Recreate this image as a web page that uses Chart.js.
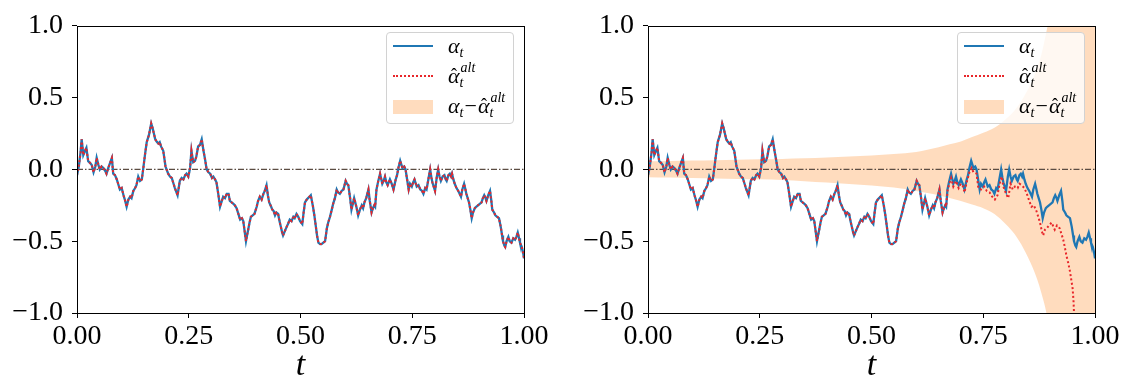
<!DOCTYPE html>
<html><head><meta charset="utf-8">
<script src="https://cdn.jsdelivr.net/npm/chart.js"></script>
<style>
html,body{margin:0;padding:0;background:#fff;}
body{width:1125px;height:381px;position:relative;overflow:hidden;}
.panel{position:absolute;top:0;width:554px;height:381px;}
.legend{position:absolute;top:32px;width:128px;height:92px;box-sizing:border-box;border:1px solid #d2d2d2;border-radius:4px;background:rgba(255,255,255,0.8);font-family:'Liberation Serif','DejaVu Serif',serif;color:#000;z-index:5;}
.row{position:absolute;left:0;width:100%;height:30px;}
.sample{position:absolute;left:6px;width:40px;}
.lab{position:absolute;left:61px;top:0;height:30px;line-height:30px;white-space:nowrap;font-size:22px;}
.lab i{font-style:italic;}
.sb{font-size:14px;font-style:italic;position:relative;top:4px;}
.hat{position:relative;display:inline-block;font-style:italic;line-height:22px;}
.hat .hc{position:absolute;left:3px;top:1px;font-style:normal;font-size:18px;line-height:18px;}
.ss{display:inline-block;position:relative;width:19px;height:1px;font-size:14px;font-style:italic;}
.ss .up{position:absolute;left:1px;top:-21px;line-height:14px;}
.ss .dn{position:absolute;left:0;top:-6px;line-height:14px;}
.op{padding:0 1px;}
</style>
</head><body>
<div class="panel" style="left:0"><canvas id="c1" width="554" height="381"></canvas></div>
<div class="panel" style="left:571px"><canvas id="c2" width="554" height="381"></canvas></div>

<div class="legend" style="left:386px">
  <div class="row" style="top:-2px"><div class="sample" style="top:14px;height:2px;background:#1f77b4"></div><div class="lab"><i>α</i><span class="sb">t</span></div></div>
  <div class="row" style="top:28px"><div class="sample" style="top:14px;height:0;border-top:2px dotted #e8262a"></div><div class="lab"><span class="hat">α<span class="hc">ˆ</span></span><span class="ss"><span class="up">alt</span><span class="dn">t</span></span></div></div>
  <div class="row" style="top:58px"><div class="sample" style="top:9px;height:14px;background:rgba(255,127,14,0.27)"></div><div class="lab"><i>α</i><span class="sb">t</span><span class="op">−</span><span class="hat">α<span class="hc">ˆ</span></span><span class="ss"><span class="up">alt</span><span class="dn">t</span></span></div></div>
</div>
<div class="legend" style="left:957px">
  <div class="row" style="top:-2px"><div class="sample" style="top:14px;height:2px;background:#1f77b4"></div><div class="lab"><i>α</i><span class="sb">t</span></div></div>
  <div class="row" style="top:28px"><div class="sample" style="top:14px;height:0;border-top:2px dotted #e8262a"></div><div class="lab"><span class="hat">α<span class="hc">ˆ</span></span><span class="ss"><span class="up">alt</span><span class="dn">t</span></span></div></div>
  <div class="row" style="top:58px"><div class="sample" style="top:9px;height:14px;background:rgba(255,127,14,0.27)"></div><div class="lab"><i>α</i><span class="sb">t</span><span class="op">−</span><span class="hat">α<span class="hc">ˆ</span></span><span class="ss"><span class="up">alt</span><span class="dn">t</span></span></div></div>
</div>

<script>
// ---- data ----
const tAlpha = [0.000,0.004,0.008,0.0104,0.0141,0.018,0.021,0.025,0.029,0.033,0.037,0.041,0.044,0.048,0.051,0.055,0.059,0.063,0.066,0.070,0.074,0.078,0.081,0.085,0.089,0.092,0.096,0.100,0.104,0.107,0.111,0.115,0.119,0.122,0.126,0.130,0.133,0.137,0.141,0.145,0.148,0.152,0.156,0.161,0.166,0.169,0.172,0.175,0.179,0.182,0.185,0.188,0.193,0.198,0.204,0.208,0.212,0.216,0.219,0.225,0.230,0.234,0.238,0.242,0.245,0.249,0.253,0.256,0.260,0.264,0.267,0.271,0.275,0.279,0.283,0.287,0.290,0.294,0.298,0.302,0.305,0.309,0.312,0.316,0.320,0.324,0.327,0.331,0.335,0.339,0.342,0.346,0.350,0.353,0.357,0.361,0.365,0.369,0.372,0.375,0.378,0.381,0.383,0.386,0.389,0.393,0.397,0.400,0.402,0.405,0.409,0.413,0.417,0.420,0.424,0.427,0.430,0.433,0.437,0.440,0.443,0.446,0.450,0.453,0.456,0.459,0.461,0.465,0.469,0.472,0.476,0.480,0.484,0.487,0.491,0.495,0.499,0.504,0.507,0.510,0.514,0.517,0.520,0.523,0.528,0.531,0.534,0.537,0.540,0.544,0.547,0.551,0.555,0.559,0.562,0.566,0.570,0.573,0.577,0.581,0.584,0.588,0.592,0.596,0.601,0.604,0.607,0.611,0.614,0.617,0.620,0.625,0.629,0.633,0.637,0.640,0.643,0.647,0.652,0.655,0.659,0.662,0.665,0.667,0.670,0.674,0.678,0.683,0.686,0.689,0.692,0.695,0.700,0.704,0.708,0.713,0.716,0.719,0.723,0.726,0.728,0.732,0.735,0.738,0.742,0.745,0.749,0.752,0.755,0.758,0.760,0.764,0.768,0.772,0.775,0.779,0.782,0.786,0.790,0.793,0.795,0.798,0.801,0.805,0.808,0.811,0.814,0.818,0.822,0.825,0.827,0.831,0.834,0.837,0.839,0.842,0.845,0.849,0.853,0.856,0.859,0.862,0.866,0.869,0.871,0.874,0.877,0.880,0.883,0.886,0.890,0.893,0.897,0.901,0.905,0.908,0.911,0.914,0.916,0.920,0.924,0.927,0.929,0.933,0.936,0.940,0.944,0.946,0.948,0.951,0.953,0.956,0.958,0.961,0.965,0.968,0.972,0.976,0.980,0.983,0.986,0.989,0.991,0.995,0.998,1.000];
const alpha = [-0.04,0.02,0.12,0.21,0.10,0.13,0.15,0.057,0.046,0.03,-0.02,0.02,0.08,0.03,0.0,0.02,0.01,-0.01,-0.03,0.01,0.046,0.08,-0.03,-0.04,-0.07,-0.10,-0.14,-0.13,-0.18,-0.21,-0.26,-0.21,-0.19,-0.20,-0.15,-0.13,-0.11,-0.05,-0.08,-0.07,0.0,0.10,0.19,0.24,0.32,0.29,0.25,0.21,0.19,0.18,0.19,0.16,0.13,0.02,-0.03,-0.05,-0.06,-0.10,-0.13,-0.18,-0.08,-0.06,-0.07,-0.04,-0.03,-0.05,0.01,0.13,0.05,0.06,0.09,0.16,0.17,0.21,0.13,0.06,0.0,-0.02,-0.03,-0.06,-0.05,-0.07,-0.09,-0.17,-0.26,-0.22,-0.19,-0.20,-0.17,-0.17,-0.22,-0.23,-0.24,-0.25,-0.27,-0.31,-0.35,-0.34,-0.36,-0.43,-0.50,-0.45,-0.42,-0.37,-0.33,-0.32,-0.31,-0.28,-0.26,-0.22,-0.19,-0.21,-0.17,-0.15,-0.11,-0.18,-0.23,-0.25,-0.28,-0.29,-0.32,-0.30,-0.31,-0.36,-0.40,-0.44,-0.46,-0.43,-0.40,-0.38,-0.35,-0.36,-0.33,-0.34,-0.31,-0.33,-0.36,-0.38,-0.30,-0.23,-0.21,-0.20,-0.19,-0.18,-0.26,-0.32,-0.39,-0.46,-0.51,-0.52,-0.52,-0.51,-0.50,-0.41,-0.37,-0.33,-0.28,-0.24,-0.20,-0.14,-0.16,-0.17,-0.15,-0.14,-0.08,-0.10,-0.11,-0.20,-0.28,-0.24,-0.20,-0.26,-0.32,-0.28,-0.25,-0.27,-0.23,-0.20,-0.14,-0.22,-0.30,-0.27,-0.25,-0.26,-0.14,-0.08,-0.03,-0.10,-0.08,-0.05,-0.09,-0.11,-0.07,-0.10,-0.14,-0.07,-0.04,0.01,0.06,0.03,0.01,0.02,0.0,-0.06,-0.14,-0.10,-0.12,-0.09,-0.07,-0.10,-0.12,-0.11,-0.14,-0.15,-0.17,-0.13,-0.14,-0.07,0.0,-0.06,-0.09,-0.12,-0.15,-0.05,0.0,-0.05,-0.08,-0.05,-0.04,-0.07,-0.08,-0.04,-0.03,-0.05,-0.03,-0.07,-0.10,-0.13,-0.15,-0.17,-0.19,-0.14,-0.10,-0.14,-0.17,-0.20,-0.23,-0.28,-0.34,-0.30,-0.27,-0.26,-0.25,-0.24,-0.23,-0.20,-0.18,-0.20,-0.22,-0.18,-0.15,-0.22,-0.28,-0.30,-0.32,-0.33,-0.34,-0.37,-0.40,-0.46,-0.50,-0.53,-0.54,-0.50,-0.47,-0.50,-0.51,-0.48,-0.49,-0.47,-0.44,-0.48,-0.51,-0.54,-0.58,-0.62];

// right panel: filtered estimate where it departs from alpha (t >= 0.67)
const tHatRight = [0.670,0.674,0.678,0.683,0.689,0.695,0.700,0.705,0.708,0.713,0.719,0.724,0.728,0.735,0.739,0.745,0.752,0.758,0.764,0.770,0.776,0.782,0.786,0.791,0.795,0.801,0.806,0.811,0.816,0.821,0.827,0.831,0.836,0.842,0.847,0.853,0.858,0.863,0.869,0.873,0.877,0.881,0.884,0.888,0.892,0.897,0.903,0.907,0.910,0.915,0.921,0.925,0.929,0.933,0.936,0.940,0.944,0.947,0.950,0.952,0.953,0.955,0.957];
const hatRight = [-0.15,-0.10,-0.06,-0.12,-0.08,-0.13,-0.10,-0.12,-0.16,-0.09,-0.02,0.01,-0.02,-0.03,-0.13,-0.14,-0.12,-0.15,-0.16,-0.19,-0.21,-0.18,-0.11,-0.05,-0.12,-0.17,-0.20,-0.10,-0.14,-0.12,-0.13,-0.10,-0.11,-0.13,-0.165,-0.22,-0.26,-0.25,-0.29,-0.33,-0.37,-0.43,-0.46,-0.42,-0.41,-0.39,-0.37,-0.40,-0.42,-0.39,-0.41,-0.45,-0.49,-0.55,-0.60,-0.65,-0.71,-0.77,-0.83,-0.92,-1.0,-1.15,-1.4];

// uncertainty band for alpha_t - hat alpha_t^alt (right panel)
const tBand = [0,0.05,0.1,0.15,0.2,0.25,0.3,0.35,0.4,0.45,0.5,0.55,0.6,0.625,0.65,0.675,0.7,0.725,0.75,0.775,0.8,0.82,0.84,0.86,0.87,0.88,0.89,0.9,0.92,0.94,0.96,0.98,1.0];
const bandUpper = [0.057,0.059,0.062,0.064,0.067,0.070,0.073,0.077,0.082,0.089,0.097,0.107,0.122,0.137,0.155,0.175,0.195,0.225,0.255,0.29,0.35,0.41,0.50,0.62,0.70,0.80,0.94,1.1,1.5,2.2,3.3,5,8];
const bandLower = [-0.055,-0.057,-0.060,-0.063,-0.066,-0.069,-0.074,-0.082,-0.092,-0.101,-0.112,-0.126,-0.150,-0.165,-0.18,-0.20,-0.22,-0.245,-0.27,-0.31,-0.38,-0.45,-0.55,-0.68,-0.76,-0.86,-0.98,-1.15,-1.6,-2.3,-3.4,-5,-8];

const zeroLevel = 0;
const xTickValues = [0,0.25,0.5,0.75,1];
const xTickLabels = ['0.00','0.25','0.50','0.75','1.00'];
const yTickValues = [-1,-0.5,0,0.5,1];
const yTickLabels = ['\u22121.0','\u22120.5','0.0','0.5','1.0'];
const xTitle = 't';

// ---- build ----
const pts = (ts, vs) => ts.map((t, i) => ({x: t, y: vs[i]}));
const alphaPts = pts(tAlpha, alpha);
const hatRightPts = alphaPts.filter(p => p.x < tHatRight[0]).concat(pts(tHatRight, hatRight));

const SERIF = "'Liberation Serif','DejaVu Serif','Times New Roman',serif";
const BLUE = '#1f77b4', RED = '#e8262a', BAND = 'rgba(255,127,14,0.27)', ZERO = '#5b4c42';

const framePlugin = {
  id: 'frame',
  afterDraw(chart) {
    const {ctx, chartArea: a} = chart;
    ctx.save();
    ctx.strokeStyle = '#000';
    ctx.lineWidth = 1;
    ctx.strokeRect(Math.round(a.left) + 0.5, Math.round(a.top) + 0.5, Math.round(a.right - a.left), Math.round(a.bottom - a.top));
    ctx.restore();
  }
};

function lineDs(data, color, extra) {
  return Object.assign({data, borderColor: color, borderWidth: 2, pointRadius: 0, tension: 0, fill: false}, extra || {});
}

function makeChart(id, withBand, hatPts) {
  const datasets = [
    lineDs(hatPts, RED, {borderDash: [2, 2.4], order: 1}),
    lineDs(alphaPts, BLUE, {borderWidth: 2.3, order: 2}),
    lineDs([{x: xTickValues[0], y: zeroLevel}, {x: xTickValues[xTickValues.length - 1], y: zeroLevel}], ZERO, {borderWidth: 1.2, borderDash: [6, 2, 1.5, 2], order: 3})
  ];
  if (withBand) {
    datasets.push({data: pts(tBand, bandUpper), fill: '+1', backgroundColor: BAND, borderWidth: 0, borderColor: 'rgba(0,0,0,0)', pointRadius: 0, cubicInterpolationMode: 'monotone', order: 5});
    datasets.push({data: pts(tBand, bandLower), fill: false, backgroundColor: BAND, borderWidth: 0, borderColor: 'rgba(0,0,0,0)', pointRadius: 0, cubicInterpolationMode: 'monotone', order: 6});
  }
  return new Chart(document.getElementById(id), {
    type: 'line',
    data: {datasets},
    plugins: [framePlugin],
    options: {
      responsive: false, animation: false, devicePixelRatio: 1,
      layout: {padding: {left: 0, right: 30, top: 21, bottom: 0}},
      plugins: {legend: {display: false}, tooltip: {enabled: false}},
      scales: {
        x: {
          type: 'linear', min: 0, max: 1, offset: false,
          afterBuildTicks: s => { s.ticks = xTickValues.map(v => ({value: v})); },
          afterFit: s => { s.height = 68; },
          ticks: {autoSkip: false, maxRotation: 0, padding: 2, color: '#000',
            font: {family: SERIF, size: 28},
            callback: v => { const i = xTickValues.indexOf(v); return i >= 0 ? xTickLabels[i] : ''; }},
          grid: {display: true, drawOnChartArea: false, drawTicks: true, tickLength: 5, tickColor: '#000', tickWidth: 1, color: '#000'},
          border: {display: false},
          title: {display: true, text: xTitle, color: '#000', padding: 0, font: {family: SERIF, size: 34, style: 'italic', lineHeight: 0.88}}
        },
        y: {
          min: -1, max: 1,
          afterBuildTicks: s => { s.ticks = yTickValues.map(v => ({value: v})); },
          afterFit: s => { s.width = 77; },
          ticks: {autoSkip: false, padding: 9, color: '#000',
            font: {family: SERIF, size: 28},
            callback: v => { const i = yTickValues.indexOf(v); return i >= 0 ? yTickLabels[i] : ''; }},
          grid: {display: true, drawOnChartArea: false, drawTicks: true, tickLength: 5, tickColor: '#000', tickWidth: 1, color: '#000'},
          border: {display: false}
        }
      }
    }
  });
}

makeChart('c1', false, alphaPts);
makeChart('c2', true, hatRightPts);
</script>
</body></html>
